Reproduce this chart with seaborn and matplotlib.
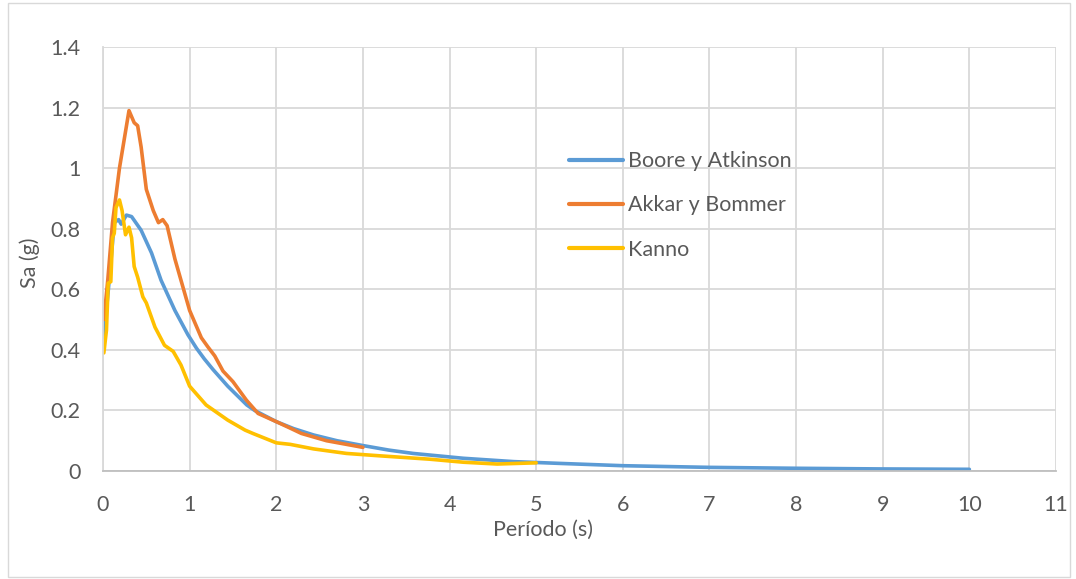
import numpy as np
import pandas as pd
import matplotlib
matplotlib.use("Agg")
import matplotlib.pyplot as plt
import seaborn as sns

# Series
periodo_ba = [0.01, 0.075, 0.13, 0.18, 0.21, 0.27, 0.33, 0.44, 0.56, 0.67, 0.83, 0.98,
              1.08, 1.17, 1.27, 1.44, 1.66, 1.75, 2.0, 2.2, 2.43, 2.7, 3.0, 3.3, 3.58,
              4.16, 4.74, 5.28, 6.0, 7.0, 8.0, 9.0, 10.0]
sa_ba = [0.44, 0.64, 0.82, 0.83, 0.815, 0.845, 0.84, 0.795, 0.72, 0.63, 0.53, 0.45,
         0.405, 0.37, 0.335, 0.28, 0.218, 0.20, 0.163, 0.14, 0.119, 0.10, 0.084, 0.069, 0.058,
         0.042, 0.031, 0.025, 0.0175, 0.012, 0.009, 0.0068, 0.0056]

periodo_ab = [0.01, 0.055, 0.11, 0.19, 0.30, 0.36, 0.40, 0.44, 0.50, 0.58, 0.64, 0.69,
              0.74, 0.83, 0.88, 0.96, 1.0, 1.06, 1.135, 1.21, 1.29, 1.385, 1.50, 1.655,
              1.79, 2.0, 2.15, 2.29, 2.58, 2.81, 3.0]
sa_ab = [0.50, 0.63, 0.82, 1.00, 1.19, 1.15, 1.14, 1.07, 0.93, 0.86, 0.82, 0.83,
         0.81, 0.70, 0.65, 0.57, 0.53, 0.49, 0.44, 0.41, 0.38, 0.33, 0.295, 0.234,
         0.19, 0.163, 0.143, 0.124, 0.10, 0.088, 0.078]

periodo_k = [0.01, 0.04, 0.06, 0.09, 0.11, 0.13, 0.15, 0.19, 0.22, 0.26, 0.30, 0.33,
             0.36, 0.40, 0.46, 0.50, 0.60, 0.71, 0.81, 0.90, 1.0, 1.19, 1.44, 1.64,
             1.73, 2.0, 2.16, 2.43, 2.81, 3.2, 3.77, 4.16, 4.55, 5.0]
sa_k = [0.39, 0.465, 0.62, 0.625, 0.77, 0.785, 0.87, 0.895, 0.86, 0.78, 0.805, 0.77,
        0.675, 0.64, 0.575, 0.555, 0.475, 0.415, 0.395, 0.35, 0.28, 0.218, 0.168, 0.135,
        0.124, 0.093, 0.088, 0.073, 0.058, 0.05, 0.039, 0.029, 0.023, 0.027]

series_names = ["Boore y Atkinson", "Akkar y Bommer", "Kanno"]
series_colors = ["#5B9BD5", "#ED7D31", "#FFC000"]

df = pd.concat([
    pd.DataFrame({"Periodo": periodo_ba, "Sa": sa_ba, "Modelo": series_names[0]}),
    pd.DataFrame({"Periodo": periodo_ab, "Sa": sa_ab, "Modelo": series_names[1]}),
    pd.DataFrame({"Periodo": periodo_k, "Sa": sa_k, "Modelo": series_names[2]}),
])

sns.set_style("white")
plt.rcParams['font.family'] = ['Lato', 'DejaVu Sans']
text_col = "#595959"
fs = 15.5

fig = plt.figure(figsize=(10.76, 5.79), dpi=100)
ax = fig.add_axes([103 / 1076, 1 - 471 / 579, 953 / 1076, 424 / 579])

sns.lineplot(data=df, x="Periodo", y="Sa", hue="Modelo", hue_order=series_names,
             palette=series_colors, linewidth=2.6, ax=ax, sort=False)

ax.set_xlim(0, 11)
ax.set_ylim(0, 1.4)
ax.set_xticks(range(0, 12))
ax.set_yticks(np.arange(0, 1.41, 0.2))
ax.set_yticklabels(["0", "0.2", "0.4", "0.6", "0.8", "1", "1.2", "1.4"])
ax.grid(True, color="#d9d9d9", linewidth=1.3)
ax.set_axisbelow(True)
for side in ["top", "right"]:
    ax.spines[side].set_visible(False)
ax.spines["left"].set_color("#d9d9d9")
ax.spines["bottom"].set_color("#bfbfbf")
ax.spines["left"].set_linewidth(1.3)
ax.spines["bottom"].set_linewidth(1.3)
ax.tick_params(axis="both", length=0, labelsize=fs, labelcolor=text_col)
ax.tick_params(axis="x", pad=17)
ax.tick_params(axis="y", pad=16)

ax.set_xlabel("Período (s)", fontsize=fs, color=text_col)
ax.set_ylabel("Sa (g)", fontsize=fs, color=text_col)
ax.xaxis.set_label_coords(0.462, -0.115)
ax.yaxis.set_label_coords(-0.066, 0.49)

leg = ax.legend(loc="upper left", bbox_to_anchor=(447 / 953, 1 - 85 / 424), frameon=False,
                fontsize=fs, handlelength=2.47, handletextpad=0.25, labelspacing=1.12)
for t in leg.get_texts():
    t.set_color(text_col)
for h in leg.get_lines():
    h.set_linewidth(3)

# outer chart border
fig.patches.append(plt.Rectangle((8 / 1076, 2 / 579), 1062 / 1076, 574 / 579,
                                 transform=fig.transFigure, fill=False,
                                 edgecolor="#d9d9d9", linewidth=1))

fig.savefig("out.png", dpi=100)
